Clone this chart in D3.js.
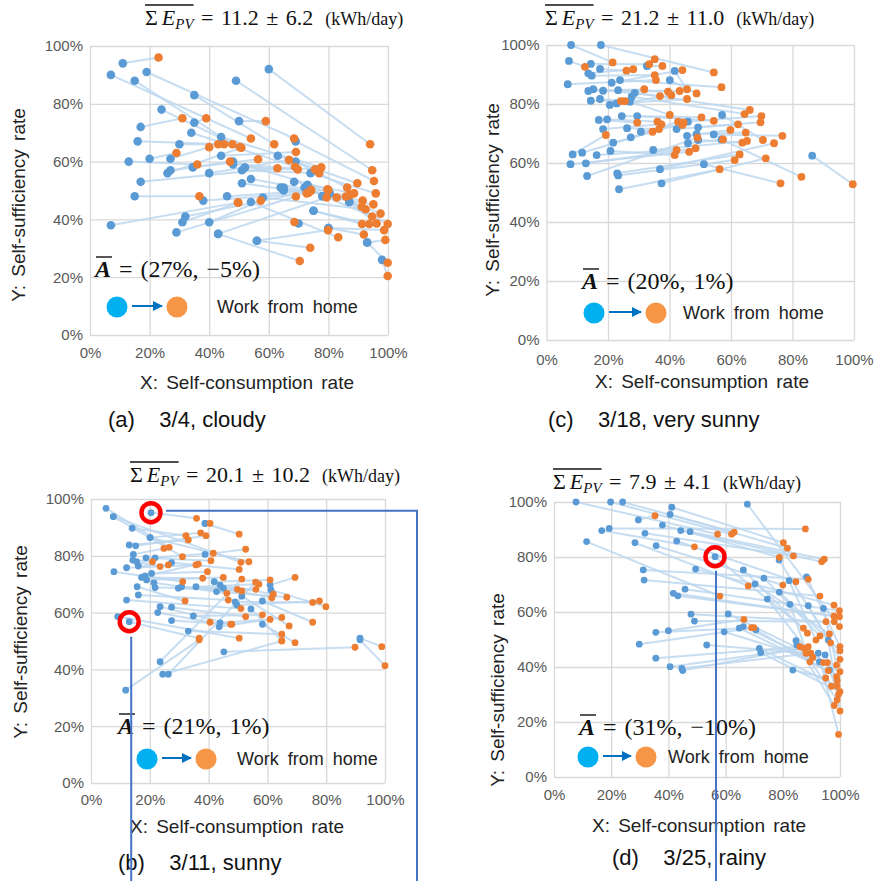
<!DOCTYPE html>
<html>
<head>
<meta charset="utf-8">
<script src="https://cdn.jsdelivr.net/npm/d3@7"></script>
<style>
  body { margin: 0; background: #fff; }
  svg { display: block; }
</style>
</head>
<body>
<div id="chart"></div>
<script>
// Each row: [blue X %, blue Y %, orange X %, orange Y %]  (before -> work from home)
const pairsA = [
  [11,94,23,96],[7,90,54,68],[19,91,68.5,68],[15,88,47.8,66],[49,88,94.7,57],[60,92,94,66],
  [35,83,61.8,66],[24,78,50.3,65],[17,72,31,75],[35,73.5,39,75],[50,74,59,74],[34,70,68.8,58.2],
  [16,67,45,66],[30,66,43,66],[44,68.5,77.6,58],[44,62,69.1,63.3],[27,61,40,65],[20,61,29,63],
  [13,60,36,59],[48,59,75.5,57.3],[34.5,58,47,60],[27,57,56.4,60.8],[26,56,50.8,64.8],[40,56,66.8,60.6],
  [17,53,62.9,57.7],[69,67,95.3,53.3],[63,62,89.7,52.5],[69,60,86.3,51],[74,56,95.9,49],[52,58,69.7,57.3],
  [51,57,76.9,56],[48,60,79.7,50.4],[65,51,91.5,46.5],[68.5,53,88.6,49],[72,51,94.7,41],[73,52,97.5,42],
  [54,54,74.2,50.2],[51,52.5,73.4,49.2],[15,48,36.7,48],[38,46.5,72.7,49],[46,48,80,50.2],[7,38,49.6,45.8],
  [32,41,74.1,49.8],[31,39,49.8,45.8],[40,39,57.3,46.5],[29,35.5,69.1,47.9],[43,35,79.4,47.6],[64,51,85.9,47.9],
  [65,50,87.2,48.4],[78,48,95.1,45.2],[80.5,49,91.2,44.4],[87,46,96.2,38.6],[93,32,99.9,25],[98,26,99.9,20.4],
  [70,38.6,68.6,39.1],[75,43,93.7,38.4],[80,37,91.9,34.8],[56,32.6,79.9,36.3],[54,46,83.3,33.8],[58,47.6,92.5,43.5],
  [93,32,99.1,32.9],[87,46,99.9,38.4],[80,37,98.7,36.3],[75,43,91.3,38.4],[56,32.6,73.9,30.2],[43,35,70.4,25.6],
  [78,48,82.8,47.6]
];
const pairsC = [
  [8,100,21.5,94.1],[17.7,100,54.4,90.7],[7.3,94.6,12.5,92.6],[14.4,93.6,33.4,93.5],[17.4,91.9,26,91.3],
  [13.6,90.4,28.2,91.8],[14.7,89.6,35.2,89.8],[6.9,86.7,35.6,88.1],[21.2,87.2,44.2,91.5],[23.9,88.1,56.9,85.7],
  [13.6,84.4,31.8,85],[15.2,85,36.9,82.7],[18.4,84.5,39.5,84.2],[23.3,84.7,43.3,84.4],[32.7,92.9,35.2,95.2],
  [41.7,91.2,45.7,85],[40.1,88.1,48.8,83.6],[14.4,81.1,24.2,81],[17.4,81.7,25.5,81],[20.6,79.7,40.6,83],
  [22.8,80.2,45.7,81.7],[27.7,82.5,64.4,76.6],[28.7,83.8,66.1,78],[27.1,80.8,40.1,76.3],[17,74.6,29.5,73.7],
  [19.7,74.8,36.1,74],[24.5,75.9,50.4,75.5],[29.5,75.9,54.4,74.3],[18.4,71.5,37.4,73.1],[21.7,66.9,34.5,70.6],
  [26.2,71.8,36.6,71.5],[27.4,68.7,42.8,74],[30.7,70.6,44.2,72.9],[42.3,71.5,62.3,73.1],[46,74,69.9,75.9],
  [49.3,72.1,69.6,73.8],[45.7,69.2,59.8,71.2],[46,66.7,57.4,68],[48.8,69.8,64.8,70.3],[49.3,67.8,63.7,66.9],
  [8.5,62.9,19.3,69.5],[11.6,63.5,44.6,73.7],[16.3,62.7,42.3,64.4],[20.8,64.1,41.7,62.7],[7.8,59.6,46.4,63.8],
  [12.8,59.9,48.5,65],[13.2,55.6,49.1,68.6],[23,56.5,62.8,62.9],[23.3,55.8,61.2,61],[23.6,51.1,56.3,57.9],
  [34.7,64.4,65.2,67.5],[36.9,57.9,74,66.7],[37.4,53.1,71.3,61.6],[51.2,59.6,76.1,53.1],[57.1,76.3,70.4,67.8],
  [54.4,69.7,76.7,69.2],[56.9,68,82.9,55.3],[86.4,62.5,99.6,52.8],[32.7,92.9,37.7,92.9]
];
const pairsB = [
  [5.1,96.7,26.6,83],[7.6,93.8,31.1,79.7],[20.4,95.2,35.9,93.2],[14,89.7,32.3,87.1],[20.1,86.4,37.3,88.1],
  [13,83.8,33.1,85.6],[15.2,83.5,39.1,87.1],[14.4,80.5,24.8,82.6],[14.2,78.5,20.9,77.9],[15.5,77.9,23.5,76.2],
  [16.1,76.4,26.3,76.8],[18.7,79.3,40.8,78.3],[21.8,79.3,41.6,80.9],[7.8,74.4,31.2,70.9],[12.1,75.8,35.7,76.8],
  [20.6,73.8,39.6,74.4],[17.2,72.4,38,72.1],[18.4,72.9,36.5,77.1],[18.9,71.5,45,72.4],[21.4,70.5,46.2,66.8],
  [21.8,68.8,49.8,68.2],[15.7,69.1,32,64.1],[29.7,68.6,51.3,67.6],[30.8,69.1,56.1,68.2],[35.7,69.1,57.1,70],
  [27.4,77.6,50.4,75.2],[38.8,80.5,52.6,82.3],[38.8,91.4,50.4,87.6],[41.9,70.9,60.9,71.5],[43.9,69.7,62,66.5],
  [45,68.6,61.5,65.2],[42.7,67.4,66.6,65.4],[16.1,66.2,46.7,64.4],[12.1,64.4,51,61.4],[23.5,62.1,47.5,55.9],
  [22.7,60,40.5,56.6],[27.4,61.9,52.6,58.6],[34.8,58.8,58.3,59.2],[27.4,57.2,47.9,55.9],[13,56.8,36.8,51],
  [9.1,58.6,50.4,51],[33.1,53.5,64.9,52.4],[43.9,56.4,60.9,57.6],[43.6,55,64.9,58.3],[49,63.8,75.4,63.6],
  [49.6,62.7,77.7,64.1],[60.9,69.7,69.4,72.4],[61.2,68,79.9,62.1],[51.3,65.8,67.4,55.3],[58.3,64.1,75.4,56.6],
  [54.4,61.3,64.9,50.1],[58.3,55.9,69.4,49.4],[91.5,51,98.9,48],[11.8,32.7,36.8,50.4],[23.5,42.7,51.3,71.8],
  [24.4,38.3,64.9,50],[26.3,38.3,56,70.7],[45.2,46.2,89.8,47.8],[91.5,50.4,100,41.3],[7.6,93.8,51,77.7],
  [20.1,86.4,53.7,77.9],[38.8,91.4,40.5,91.4]
];
const pairsD = [
  [7.7,100,57.2,88.3],[19.8,100,62.1,88.3],[24,100,63,89],[41.2,98.1,80.2,85.2],[40.6,95.5,81.6,83.2],
  [29.5,93.5,35.3,95],[37.9,91.6,78.8,79.9],[16.7,89.6,49.1,83.7],[19.3,90.4,87.9,90.2],[31.8,88.6,83.7,80.4],
  [44.3,89.6,93.6,78.3],[47.6,89.2,94.5,79.2],[11.4,85.6,58,65.8],[28.3,85.2,67.9,69.5],[35.7,84.1,80,69.8],
  [42.9,85.8,84.6,71],[31.2,75.3,88.9,71.9],[31.5,71.6,93,65.8],[49.5,75.6,97.9,62.5],[45.8,68.3,99.8,60.5],
  [41.7,66.8,97.9,58.5],[43.3,65.9,99.8,58.3],[47.9,59.2,95.1,56.5],[49.1,56.7,98,56.5],[40,53.2,66.4,57.3],
  [35.6,52.6,69.1,54.3],[29.8,48.3,69.9,54.3],[35.6,43.2,86,47.4],[40.6,40.1,87.5,46.8],[44.7,39.5,89.8,45],
  [45,38.7,88.9,47.4],[67.6,99.2,99.8,54.7],[56.3,80.1,87.2,54.1],[66.2,75.3,88.6,52.3],[73.4,72.3,93,51.3],
  [70.3,70.2,96.3,52],[78.7,78.9,96.7,48.8],[82.2,71.4,91.6,49.8],[88.3,72.8,100,47.4],[74.6,64.7,90.5,43.5],
  [78.8,67.2,100,45.9],[82.5,62.8,89.5,41.9],[88.9,62.3,100,42.8],[94.2,61.3,98.8,40.7],[60.9,59.3,95.6,41.6],
  [59.5,52.8,94.2,41.6],[64.8,54.1,95.9,38.7],[66.2,54.7,100,38.3],[70.6,53.5,98.8,36.5],[53.4,48,88.1,45],
  [71.8,46.8,99,33],[72.3,45.2,100,31],[84.6,49.6,99,28],[84.9,48,98,26],[95.9,49.8,100,24],
  [92.4,45,99.5,15.5],[94.8,44.4,99,35],[92.8,41.9,97,33],[83.5,38.9,95,36],[96.3,38.9,99.5,30]
];

// highlighted households (blue points circled in red)
const ringsB = [[20.4,95.2],[13,56.8]];
const ringsD = [[56.3,80.1]];

const xTicks = [0, 20, 40, 60, 80, 100];
const yTicks = [0, 20, 40, 60, 80, 100];
const captions = ['(a)    3/4, cloudy', '(c)    3/18, very sunny', '(b)    3/11, sunny', '(d)    3/25, rainy'];
const pvMean = ['11.2', '21.2', '20.1', '7.9'];
const pvSd = ['6.2', '11.0', '10.2', '4.1'];
const shiftMean = ['(27%, \u22125%)', '(20%, 1%)', '(21%, 1%)', '(31%, \u221210%)'];

const W = 876, H = 881;
const sans = 'Arial, "Liberation Sans", sans-serif';
const serif = '"Liberation Serif", "DejaVu Serif", serif';
const blue = '#5b9bd5', orange = '#ed7d31', linkColor = '#bdd7ee', gridColor = '#d9d9d9';

const svg = d3.select('#chart').append('svg').attr('width', W).attr('height', H);

svg.append('defs').append('marker')
  .attr('id', 'arrow').attr('viewBox', '0 0 10 10').attr('refX', 9).attr('refY', 5)
  .attr('markerWidth', 5).attr('markerHeight', 5).attr('orient', 'auto')
  .append('path').attr('d', 'M0,0 L10,5 L0,10 Z').attr('fill', '#0070c0');

// layout of the four panels (pixel frame of each plot area + label anchors)
// legend: [blue cx, cy, orange cx, text x]
const panels = [
  { pairs: pairsA, i: 0, left: 90, right: 388, top: 46, bottom: 335, r: 4.3,
    title: [145, 25], shift: [95, 277], legend: [117, 307, 177, 217], yLab: [18, 205], capY: 427, capX: 108,
    tickDy: 26, xLab: [247, 389] },
  { pairs: pairsC, i: 1, left: 546.5, right: 854, top: 45, bottom: 340, r: 3.9,
    title: [545, 25], shift: [582, 289], legend: [594, 313, 656, 683], yLab: [492, 200], capY: 427, capX: 548,
    tickDy: 28, xLab: [702, 388] },
  { pairs: pairsB, i: 2, left: 91, right: 385, top: 499, bottom: 783, r: 3.4,
    title: [130, 482], shift: [118, 734], legend: [147, 759, 206, 237], yLab: [20, 642], capY: 870, capX: 118,
    tickDy: 25, xLab: [237, 833] },
  { pairs: pairsD, i: 3, left: 554, right: 840, top: 502, bottom: 777, r: 3.4,
    title: [553, 489], shift: [579, 735], legend: [588, 757, 646, 668], yLab: [497, 690], capY: 865, capX: 612,
    tickDy: 26, xLab: [699, 832] }
];

panels.forEach(p => drawPanel(p));

function drawPanel(p) {
  const x = d3.scaleLinear().domain([0, 100]).range([p.left, p.right]);
  const y = d3.scaleLinear().domain([0, 100]).range([p.bottom, p.top]);
  const g = svg.append('g');

  // gridlines + tick labels
  const yAxis = g.append('g').attr('transform', `translate(${p.left},0)`)
    .call(d3.axisLeft(y).tickValues(yTicks).tickSize(-(p.right - p.left)).tickPadding(7).tickFormat(d => d + '%'));
  const xAxis = g.append('g').attr('transform', `translate(0,${p.bottom})`)
    .call(d3.axisBottom(x).tickValues(xTicks).tickSize(-(p.bottom - p.top)).tickPadding(p.tickDy - 14).tickFormat(d => d + '%'));
  [xAxis, yAxis].forEach(a => {
    a.select('.domain').remove();
    a.selectAll('line').attr('stroke', gridColor).attr('stroke-width', 1.3);
    a.selectAll('text').attr('fill', '#595959').style('font-family', sans).style('font-size', '15px');
  });

  // links before -> after
  g.append('g').selectAll('line').data(p.pairs).join('line')
    .attr('x1', d => x(d[0])).attr('y1', d => y(d[1]))
    .attr('x2', d => x(d[2])).attr('y2', d => y(d[3]))
    .attr('stroke', linkColor).attr('stroke-width', 2).attr('stroke-opacity', 0.85);

  g.append('g').selectAll('circle').data(p.pairs).join('circle')
    .attr('cx', d => x(d[0])).attr('cy', d => y(d[1])).attr('r', p.r).attr('fill', blue);
  g.append('g').selectAll('circle').data(p.pairs).join('circle')
    .attr('cx', d => x(d[2])).attr('cy', d => y(d[3])).attr('r', p.r).attr('fill', orange);

  // axis titles
  g.append('text').attr('x', p.xLab[0]).attr('y', p.xLab[1])
    .attr('text-anchor', 'middle').style('font-family', sans).style('font-size', '19px')
    .style('word-spacing', '3px').attr('fill', '#222').text('X: Self-consumption rate');
  g.append('text').attr('transform', `translate(${p.yLab[0]},${p.yLab[1]}) rotate(-90)`)
    .attr('text-anchor', 'middle').attr('dy', '0.35em').style('font-family', sans).style('font-size', '19px')
    .style('word-spacing', '3px').attr('fill', '#222').text('Y: Self-sufficiency rate');

  // title: mean daily PV generation
  const t = g.append('text').attr('x', p.title[0]).attr('y', p.title[1])
    .style('font-family', serif).style('font-size', '22px').attr('fill', '#111');
  t.append('tspan').text('\u03a3');
  t.append('tspan').attr('dx', 4).style('font-style', 'italic').text('E');
  t.append('tspan').attr('dy', 4).style('font-style', 'italic').style('font-size', '15px').text('PV');
  t.append('tspan').attr('dy', -4).style('word-spacing', '2px').text(` = ${pvMean[p.i]} \u00b1 ${pvSd[p.i]}`);
  t.append('tspan').attr('dx', 12).style('font-size', '18px').text('(kWh/day)');
  const tn = t.node();
  const ox0 = tn.getStartPositionOfChar(0).x, ox1 = tn.getEndPositionOfChar(3).x;
  g.append('line').attr('x1', ox0).attr('x2', ox1).attr('y1', p.title[1] - 20).attr('y2', p.title[1] - 20)
    .attr('stroke', '#111').attr('stroke-width', 1.4);

  // mean shift annotation
  const a = g.append('text').attr('x', p.shift[0]).attr('y', p.shift[1])
    .style('font-family', serif).style('font-size', '24px').style('word-spacing', '2px').attr('fill', '#111');
  a.append('tspan').style('font-weight', 'bold').style('font-style', 'italic').text('A');
  a.append('tspan').text(' = ' + shiftMean[p.i]);
  const an = a.node();
  const ax0 = an.getStartPositionOfChar(0).x, ax1 = an.getEndPositionOfChar(0).x;
  g.append('line').attr('x1', ax0 + 1).attr('x2', ax1 + 1).attr('y1', p.shift[1] - 20).attr('y2', p.shift[1] - 20)
    .attr('stroke', '#111').attr('stroke-width', 1.4);

  // legend
  const [lx, ly, lo, lt] = p.legend;
  g.append('circle').attr('cx', lx).attr('cy', ly).attr('r', 10.5).attr('fill', '#00b0f0');
  g.append('line').attr('x1', lx + 15).attr('x2', lo - 15).attr('y1', ly - 1).attr('y2', ly - 1)
    .attr('stroke', '#0070c0').attr('stroke-width', 2).attr('marker-end', 'url(#arrow)');
  g.append('circle').attr('cx', lo).attr('cy', ly).attr('r', 10.5).attr('fill', '#f79646');
  g.append('text').attr('x', lt).attr('y', ly + 6).style('font-family', sans).style('font-size', '18px')
    .style('word-spacing', '4px').attr('fill', '#222').text('Work from home');

  // caption
  g.append('text').attr('x', p.capX).attr('y', p.capY).style('font-family', sans).style('font-size', '22px')
    .attr('fill', '#111').style('white-space', 'pre').text(captions[p.i]);

  p.x = x; p.y = y;
}

// highlighted households with call-out lines
const pb = panels[2], pd = panels[3];
const annBlue = '#4472c4';
function ring(p, d) {
  svg.append('circle').attr('cx', p.x(d[0])).attr('cy', p.y(d[1])).attr('r', 9.5)
    .attr('fill', 'none').attr('stroke', '#ff0000').attr('stroke-width', 4.5);
}
ringsB.forEach(d => ring(pb, d));
ringsD.forEach(d => ring(pd, d));

const r1 = ringsB[0], r2 = ringsB[1], r3 = ringsD[0];
svg.append('path')
  .attr('d', `M${pb.x(r1[0]) + 15},${pb.y(r1[1]) - 2} H417 V${H}`)
  .attr('fill', 'none').attr('stroke', annBlue).attr('stroke-width', 2);
svg.append('path')
  .attr('d', `M${pb.x(r2[0]) + 2},${pb.y(r2[1]) + 15} V${H}`)
  .attr('fill', 'none').attr('stroke', annBlue).attr('stroke-width', 2);
svg.append('path')
  .attr('d', `M${pd.x(r3[0]) + 1},${pd.y(r3[1]) + 14} V${H}`)
  .attr('fill', 'none').attr('stroke', annBlue).attr('stroke-width', 2);
</script>
</body>
</html>
